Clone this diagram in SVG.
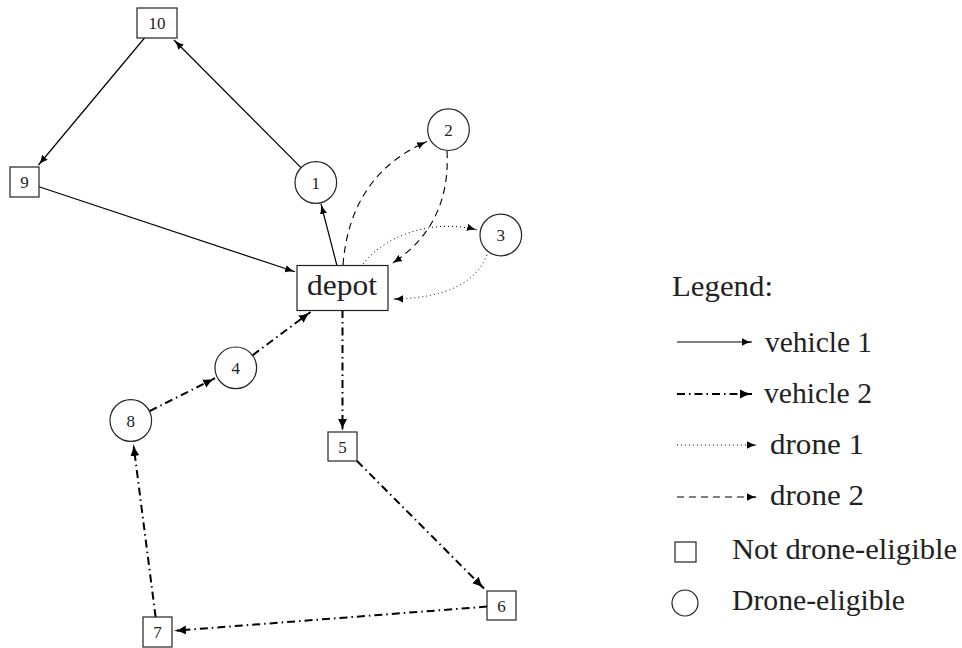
<svg xmlns="http://www.w3.org/2000/svg" width="962" height="648" viewBox="0 0 962 648">
<style>
.box{fill:#fff;stroke:#222;stroke-width:1.2}
.lbl{font-family:"Liberation Serif",serif;font-size:17px;text-anchor:middle;fill:#222}
.big{font-family:"Liberation Serif",serif;font-size:29px;fill:#222}
.v1{fill:none;stroke:#000;stroke-width:1.2;marker-end:url(#at)}
.v2{fill:none;stroke:#000;stroke-width:2;stroke-dasharray:8 4 1.5 4;marker-end:url(#ak)}
.d1{fill:none;stroke:#000;stroke-width:1;stroke-dasharray:1 3;marker-end:url(#at)}
.d2{fill:none;stroke:#000;stroke-width:1.1;stroke-dasharray:7 5;marker-end:url(#at)}
</style>
<defs>
<marker id="at" markerUnits="userSpaceOnUse" markerWidth="11" markerHeight="8" refX="10" refY="4" orient="auto"><path d="M0,0.3 Q4,3 10,4 Q4,5 0,7.7 z" fill="#000"/></marker>
<marker id="ak" markerUnits="userSpaceOnUse" markerWidth="13" markerHeight="10" refX="12" refY="5" orient="auto"><path d="M0,0.5 Q5,3.8 12,5 Q5,6.2 0,9.5 z" fill="#000"/></marker>
</defs>
<g id="connectors">
<path class="v1" d="M336.8,265 L321,204"/>
<path class="v1" d="M301,167.6 L174,40"/>
<path class="v1" d="M144.5,38 L38.5,165"/>
<path class="v1" d="M39,186.8 L295,271.8"/>
<path class="v2" d="M342.5,310 L342.5,431"/>
<path class="v2" d="M357,461 L484,588.5"/>
<path class="v2" d="M487,606.6 L174,630.8"/>
<path class="v2" d="M155.6,617 L133.4,444"/>
<path class="v2" d="M149.6,411.1 L215,378.2"/>
<path class="v2" d="M252.6,355.2 L310.5,312"/>
<path class="d2" d="M343,265 Q350,175 427,141.5"/>
<path class="d2" d="M447,151 Q451,225 392,263.5"/>
<path class="d1" d="M363,264 C390,230 440,220 477,230"/>
<path class="d1" d="M487,255 Q470,298 393,299"/>
<path class="v1" d="M677,342 L752,342"/>
<path class="v2" d="M677,394 L752,394"/>
<path class="d1" d="M677,445 L757,445"/>
<path class="d2" d="M677,497 L757,497"/>
</g>
<g id="depot"><rect class="box" x="297" y="265.5" width="91" height="45"/><text class="big" x="307" y="295" textLength="70" lengthAdjust="spacingAndGlyphs">depot</text></g>
<g id="n1"><circle class="box" cx="315.8" cy="182.5" r="20.8"/><text class="lbl" x="315.8" y="188.5">1</text></g>
<g id="n2"><circle class="box" cx="448.5" cy="129.7" r="20.8"/><text class="lbl" x="448.5" y="135.7">2</text></g>
<g id="n3"><circle class="box" cx="500.8" cy="235" r="20.8"/><text class="lbl" x="500.8" y="241">3</text></g>
<g id="n4"><circle class="box" cx="235.8" cy="367.8" r="20.8"/><text class="lbl" x="235.8" y="373.8">4</text></g>
<g id="n5"><rect class="box" x="328" y="432" width="29" height="29"/><text class="lbl" x="342.5" y="452.5">5</text></g>
<g id="n6"><rect class="box" x="487" y="591" width="29" height="29"/><text class="lbl" x="501.5" y="611.5">6</text></g>
<g id="n7"><rect class="box" x="143" y="617" width="29" height="30"/><text class="lbl" x="157.5" y="638">7</text></g>
<g id="n8"><circle class="box" cx="130.8" cy="420.5" r="20.8"/><text class="lbl" x="130.8" y="426.5">8</text></g>
<g id="n9"><rect class="box" x="10" y="167" width="29" height="30"/><text class="lbl" x="24.5" y="188">9</text></g>
<g id="n10"><rect class="box" x="137" y="8" width="40" height="30"/><text class="lbl" x="157" y="29">10</text></g>
<g id="legend">
<text class="big" x="672" y="296" textLength="101" lengthAdjust="spacingAndGlyphs">Legend:</text>
<text class="big" x="765" y="352" textLength="107" lengthAdjust="spacingAndGlyphs">vehicle 1</text>
<text class="big" x="764" y="403" textLength="108" lengthAdjust="spacingAndGlyphs">vehicle 2</text>
<text class="big" x="770" y="454" textLength="94" lengthAdjust="spacingAndGlyphs">drone 1</text>
<text class="big" x="770" y="505" textLength="94" lengthAdjust="spacingAndGlyphs">drone 2</text>
<rect class="box" x="675" y="542" width="21" height="20"/>
<text class="big" x="732" y="559" textLength="225" lengthAdjust="spacingAndGlyphs">Not drone-eligible</text>
<circle class="box" cx="685" cy="603" r="13"/>
<text class="big" x="732" y="610" textLength="173" lengthAdjust="spacingAndGlyphs">Drone-eligible</text>
</g>
</svg>
